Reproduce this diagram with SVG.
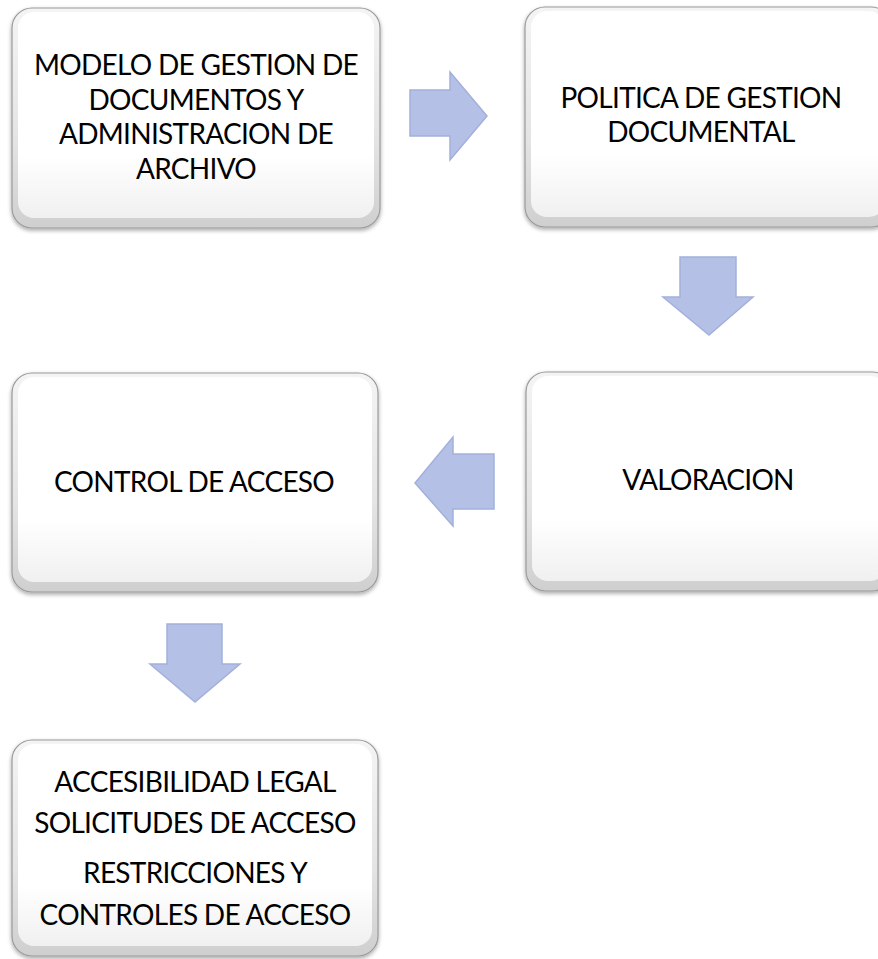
<svg xmlns="http://www.w3.org/2000/svg" width="878" height="959" viewBox="0 0 878 959">
<defs>
<linearGradient id="bev" x1="0" y1="0" x2="0" y2="1">
<stop offset="0" stop-color="#f4f4f4"/>
<stop offset="0.6" stop-color="#e4e4e4"/>
<stop offset="1" stop-color="#cfcfcf"/>
</linearGradient>
<linearGradient id="face" x1="0" y1="0" x2="0" y2="1">
<stop offset="0" stop-color="#ffffff"/>
<stop offset="0.7" stop-color="#ffffff"/>
<stop offset="1" stop-color="#f0f0f0"/>
</linearGradient>
<filter id="sh" x="-5%" y="-5%" width="110%" height="115%">
<feGaussianBlur in="SourceAlpha" stdDeviation="2"/>
<feOffset dx="0" dy="2" result="b"/>
<feComponentTransfer><feFuncA type="linear" slope="0.35"/></feComponentTransfer>
<feMerge><feMergeNode/><feMergeNode in="SourceGraphic"/></feMerge>
</filter>
</defs>
<style>
.outer{fill:url(#bev);stroke:#9a9a9a;stroke-width:1.2;filter:url(#sh)}
.inner{fill:url(#face);stroke:none}
.t{font-family:Lato,"Liberation Sans",sans-serif;font-size:28px;letter-spacing:-0.7px;fill:#000;text-anchor:middle}
.arr{fill:#b4c0e6;stroke:#a2b0dc;stroke-width:1.5;stroke-linejoin:miter}
</style>
<rect width="878" height="959" fill="#fff"/>
<g id="connectors">
<polygon class="arr" points="410,90 450,90 450,72 487,116 450,160 450,136 410,136"/>
<polygon class="arr" points="680,257 736,257 736,297 753,297 709,335 663,297 680,297"/>
<polygon class="arr" points="494,454 453,454 453,437 415,483 453,526 453,509 494,509"/>
<polygon class="arr" points="167,624 222,624 222,664 240,664 195,702 150,664 167,664"/>
</g>
<g id="node1">
<rect class="outer" x="12" y="8" width="368" height="220" rx="20"/>
<rect class="inner" x="18" y="12" width="356" height="206" rx="16"/>
<text class="t" x="196" y="75">MODELO DE GESTION DE</text>
<text class="t" x="196" y="110">DOCUMENTOS Y</text>
<text class="t" x="196" y="144">ADMINISTRACION DE</text>
<text class="t" x="196" y="179">ARCHIVO</text>
</g>
<g id="node2">
<rect class="outer" x="525" y="7" width="366" height="220" rx="20"/>
<rect class="inner" x="531" y="11" width="354" height="206" rx="16"/>
<text class="t" x="701" y="108">POLITICA DE GESTION</text>
<text class="t" x="701" y="142">DOCUMENTAL</text>
</g>
<g id="node3">
<rect class="outer" x="526" y="372" width="366" height="219" rx="20"/>
<rect class="inner" x="532" y="376" width="354" height="205" rx="16"/>
<text class="t" x="708" y="490">VALORACION</text>
</g>
<g id="node4">
<rect class="outer" x="12" y="373" width="366" height="219" rx="20"/>
<rect class="inner" x="18" y="377" width="354" height="205" rx="16"/>
<text class="t" x="194" y="492">CONTROL DE ACCESO</text>
</g>
<g id="node5">
<rect class="outer" x="12" y="740" width="366" height="216" rx="20"/>
<rect class="inner" x="18" y="744" width="354" height="202" rx="16"/>
<text class="t" x="195" y="792">ACCESIBILIDAD LEGAL</text>
<text class="t" x="195" y="833">SOLICITUDES DE ACCESO</text>
<text class="t" x="195" y="883">RESTRICCIONES Y</text>
<text class="t" x="195" y="925">CONTROLES DE ACCESO</text>
</g>
</svg>
